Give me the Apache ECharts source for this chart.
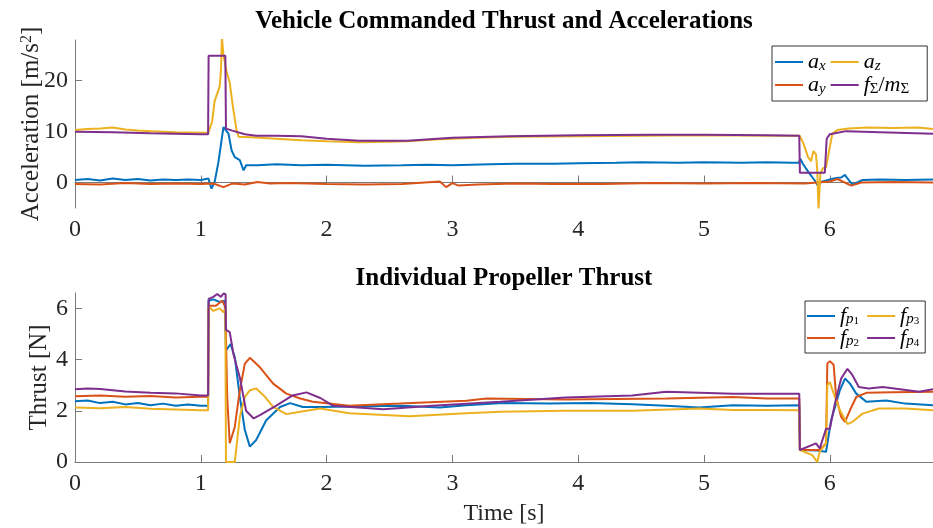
<!DOCTYPE html>
<html><head><meta charset="utf-8">
<script src="https://cdn.jsdelivr.net/npm/echarts@6/dist/echarts.min.js"></script>
<style>html,body{margin:0;padding:0;background:#fff}#c{width:933px;height:528px}</style>
</head><body><div id="c"></div>
<script>
// ---- tick labels ----
const xTicks = [0, 1, 2, 3, 4, 5, 6];
const accTicks = [0, 10, 20];
const thrustTicks = [0, 2, 4, 6];

// ---- top panel: accelerations [m/s^2], pairs [time s, value] ----
const ax = [[0,0.5],[0.1,0.7],[0.2,0.4],[0.3,0.8],[0.4,0.5],[0.5,0.7],[0.6,0.4],[0.7,0.6],[0.8,0.5],[0.9,0.6],[1.0,0.5],[1.06,0.8],[1.085,-1.2],[1.11,0.1],[1.14,4],[1.18,10.9],[1.22,9.6],[1.245,6.3],[1.27,5.0],[1.31,4.4],[1.34,2.4],[1.36,3.4],[1.45,3.4],[1.6,3.6],[1.8,3.4],[2.0,3.5],[2.3,3.3],[2.6,3.4],[2.8,3.5],[3.0,3.4],[3.3,3.6],[3.5,3.7],[3.8,3.7],[4.0,3.8],[4.3,3.9],[4.5,4.0],[4.8,3.9],[5.0,4.0],[5.3,3.9],[5.5,4.0],[5.7,3.9],[5.755,3.9],[5.765,4.7],[5.785,3.7],[5.84,1.7],[5.88,0.4],[5.905,-0.6],[5.93,0.1],[6.0,0.6],[6.05,0.9],[6.09,1.0],[6.12,1.5],[6.14,0.8],[6.18,-0.4],[6.26,0.5],[6.4,0.6],[6.6,0.5],[6.82,0.6]];
const ay = [[0,-0.3],[0.2,-0.4],[0.4,-0.1],[0.6,-0.3],[0.8,-0.2],[1.0,-0.3],[1.1,-0.2],[1.18,-0.9],[1.25,-0.2],[1.35,-0.4],[1.45,0.1],[1.55,-0.2],[1.7,-0.1],[2.0,-0.3],[2.3,-0.4],[2.6,-0.3],[2.9,0.2],[2.95,-0.9],[3.0,-0.1],[3.05,-0.6],[3.2,-0.4],[3.5,-0.2],[3.8,-0.3],[4.2,-0.3],[4.6,-0.1],[5.0,-0.2],[5.4,-0.1],[5.8,-0.2],[5.9,0.0],[6.0,0.2],[6.06,0.7],[6.17,-0.6],[6.25,0.0],[6.5,0.1],[6.82,0.0]];
const az = [[0,10.3],[0.1,10.5],[0.2,10.6],[0.3,10.8],[0.4,10.4],[0.5,10.2],[0.6,10.1],[0.8,9.9],[1.0,9.8],[1.06,9.8],[1.09,12],[1.11,16],[1.15,18.9],[1.16,22],[1.168,28.5],[1.18,25],[1.205,21.8],[1.23,19.6],[1.255,14.9],[1.284,10.3],[1.30,9.0],[1.4,8.9],[1.6,8.6],[1.8,8.3],[2.0,8.1],[2.26,7.9],[2.5,8.0],[2.64,8.1],[2.9,8.5],[3.2,8.8],[3.5,9.0],[4.0,9.1],[4.5,9.2],[5.0,9.3],[5.5,9.2],[5.76,9.2],[5.79,7.7],[5.825,5.1],[5.85,4.2],[5.87,6.2],[5.89,5.5],[5.90,2.4],[5.91,-5.1],[5.925,1.8],[5.945,2.8],[5.97,3.0],[6.0,7.0],[6.02,9.6],[6.06,10.3],[6.15,10.6],[6.3,10.8],[6.5,10.7],[6.7,10.8],[6.82,10.5]];
const fm = [[0,10.0],[0.3,9.9],[0.6,9.7],[1.0,9.5],[1.058,9.5],[1.062,24.9],[1.195,24.9],[1.2,10.6],[1.25,10.2],[1.35,9.5],[1.44,9.2],[1.6,9.2],[1.8,9.1],[2.0,8.6],[2.26,8.2],[2.64,8.2],[3.0,8.8],[3.45,9.1],[4.0,9.3],[4.57,9.4],[5.0,9.4],[5.5,9.3],[5.757,9.2],[5.762,1.9],[5.96,1.9],[5.975,8.6],[6.0,9.5],[6.13,10.1],[6.4,9.9],[6.82,9.6]];

// ---- bottom panel: propeller thrust [N] ----
const fp1 = [[0,2.37],[0.1,2.4],[0.2,2.3],[0.3,2.35],[0.4,2.25],[0.5,2.3],[0.6,2.22],[0.7,2.28],[0.8,2.2],[0.9,2.25],[1.0,2.2],[1.058,2.2],[1.062,6.3],[1.1,6.35],[1.15,6.25],[1.19,6.3],[1.2,4.36],[1.237,4.6],[1.27,4.1],[1.31,2.54],[1.35,1.25],[1.39,0.6],[1.44,0.86],[1.52,1.63],[1.63,2.15],[1.71,2.3],[1.81,2.15],[1.95,2.15],[2.32,2.18],[2.6,2.2],[2.9,2.13],[3.11,2.22],[3.4,2.3],[3.77,2.28],[4.1,2.3],[4.43,2.26],[4.7,2.2],[4.96,2.13],[5.23,2.22],[5.5,2.2],[5.757,2.22],[5.762,0.47],[5.9,0.45],[5.97,0.4],[6.01,1.63],[6.08,2.8],[6.12,3.26],[6.16,3.06],[6.21,2.67],[6.29,2.35],[6.45,2.4],[6.6,2.28],[6.82,2.22]];
const fp2 = [[0,2.57],[0.2,2.6],[0.4,2.55],[0.6,2.58],[0.8,2.52],[1.0,2.55],[1.058,2.55],[1.062,6.1],[1.12,6.1],[1.17,6.3],[1.195,6.05],[1.21,2.5],[1.23,0.73],[1.27,1.37],[1.31,2.8],[1.35,3.84],[1.39,4.07],[1.47,3.7],[1.575,3.06],[1.68,2.67],[1.79,2.48],[1.89,2.35],[2.18,2.2],[2.58,2.28],[3.11,2.39],[3.27,2.48],[3.9,2.44],[4.7,2.48],[5.23,2.54],[5.5,2.48],[5.757,2.48],[5.762,0.47],[5.92,0.47],[5.97,0.73],[5.98,3.84],[6.0,3.94],[6.03,3.8],[6.05,2.54],[6.09,1.76],[6.12,1.57],[6.16,2.02],[6.21,2.54],[6.29,2.7],[6.5,2.72],[6.82,2.74]];
const fp3 = [[0,2.13],[0.2,2.1],[0.4,2.15],[0.6,2.08],[0.8,2.05],[1.0,2.02],[1.058,2.02],[1.062,6.07],[1.1,5.9],[1.15,6.0],[1.18,5.85],[1.195,6.0],[1.2,0],[1.27,0],[1.31,1.76],[1.35,2.54],[1.39,2.8],[1.44,2.87],[1.5,2.6],[1.575,2.15],[1.68,1.87],[1.79,1.96],[1.95,2.09],[2.18,1.9],[2.66,1.79],[3.11,1.9],[3.38,1.96],[3.9,2.0],[4.43,2.0],[4.96,2.09],[5.23,2.03],[5.5,2.03],[5.757,2.02],[5.762,0.47],[5.86,0.27],[5.9,0.0],[5.92,0.4],[5.97,0.73],[5.98,3.0],[6.0,3.12],[6.04,2.54],[6.08,2.02],[6.14,1.48],[6.18,1.57],[6.26,1.89],[6.39,2.09],[6.6,2.09],[6.82,2.02]];
const fp4 = [[0,2.84],[0.1,2.87],[0.2,2.85],[0.4,2.75],[0.6,2.7],[0.8,2.68],[1.0,2.6],[1.058,2.6],[1.062,6.37],[1.1,6.45],[1.13,6.56],[1.16,6.45],[1.18,6.58],[1.197,6.55],[1.2,5.16],[1.23,5.07],[1.26,4.2],[1.31,3.3],[1.36,2.0],[1.42,1.7],[1.47,1.83],[1.6,2.2],[1.73,2.6],[1.84,2.72],[1.95,2.5],[2.05,2.2],[2.45,2.06],[2.84,2.2],[3.38,2.35],[3.9,2.52],[4.43,2.6],[4.7,2.74],[5.23,2.67],[5.5,2.67],[5.757,2.67],[5.762,0.47],[5.89,0.73],[5.92,0.53],[5.97,1.3],[6.0,1.3],[6.04,2.28],[6.09,3.26],[6.14,3.64],[6.18,3.39],[6.23,2.93],[6.31,2.87],[6.42,2.93],[6.71,2.74],[6.82,2.84]];

const C = {blue:'#0072BD', orange:'#D95319', yellow:'#EDB120', purple:'#7E2F8E'};
const SERIF = 'Liberation Serif';
const TXT = '#262626', AXC = '#7a7a7a';

const legendTex = {
  ax: '{i|a}{s|x}{w|}', ay: '{i|a}{s|y}{w|}', az: '{i|a}{s|z}',
  fm: '{i|f}{u|Σ}{n|/}{i|m}{u|Σ}{w3|}',
  fp1: '{i|f}{s|p}{ss|1}{w2|}', fp2: '{i|f}{s|p}{ss|2}{w2|}', fp3: '{i|f}{s|p}{ss|3}', fp4: '{i|f}{s|p}{ss|4}'
};
function legendRich(lh) {
  return {
    i: {fontFamily: SERIF, fontStyle: 'italic', fontSize: 22, color: '#000', lineHeight: lh},
    n: {fontFamily: SERIF, fontSize: 22, color: '#000', lineHeight: lh},
    s: {fontFamily: SERIF, fontStyle: 'italic', fontSize: 15, color: '#000', lineHeight: 9, verticalAlign: 'bottom'},
    u: {fontFamily: SERIF, fontSize: 15, color: '#000', lineHeight: 8, verticalAlign: 'bottom'},
    ss: {fontFamily: SERIF, fontSize: 11, color: '#000', lineHeight: 1, verticalAlign: 'bottom'},
    w: {width: 5, lineHeight: lh},
    w2: {width: 8, lineHeight: lh},
    w3: {width: 12, lineHeight: lh}
  };
}

function xAxis(gridIndex, name) {
  return {
    type: 'value', gridIndex, min: 0, max: 6.82,
    axisLine: {lineStyle: {color: AXC, width: 1}},
    axisTick: {inside: true, length: 7, customValues: xTicks, lineStyle: {color: AXC}},
    axisLabel: {customValues: xTicks, fontFamily: SERIF, fontSize: 24, color: TXT, margin: 10},
    splitLine: {show: false},
    name: name || '', nameLocation: 'middle', nameGap: 40, nameMoveOverlap: false,
    nameTextStyle: {fontFamily: SERIF, fontSize: 24, color: TXT}
  };
}
function yAxis(gridIndex, min, max, ticks, name, gap, rich) {
  return {
    type: 'value', gridIndex, min, max,
    axisLine: {show: true, lineStyle: {color: AXC, width: 1}},
    axisTick: {show: true, inside: true, length: 7, customValues: ticks, lineStyle: {color: AXC}},
    axisLabel: {customValues: ticks, fontFamily: SERIF, fontSize: 24, color: TXT, margin: 7},
    splitLine: {show: false},
    name, nameLocation: 'middle', nameGap: gap, nameMoveOverlap: false,
    nameTextStyle: {fontFamily: SERIF, fontSize: 25, color: TXT, rich: rich || {}}
  };
}
function line(name, data, color, xi) {
  return {name, type: 'line', data, xAxisIndex: xi, yAxisIndex: xi, showSymbol: false, symbol: 'none',
    lineStyle: {color, width: 2}, itemStyle: {color}, animation: false, clip: true};
}

const chart = echarts.init(document.getElementById('c'), null, {renderer: 'canvas'});
chart.setOption({
  backgroundColor: '#fff',
  animation: false,
  title: [
    {text: 'Vehicle Commanded Thrust and Accelerations', left: 504, top: 9, textAlign: 'center', padding: 0,
      textStyle: {fontFamily: SERIF, fontWeight: 'bold', fontSize: 25, color: '#000', lineHeight: 26}},
    {text: 'Individual Propeller Thrust', left: 504, top: 266, textAlign: 'center', padding: 0,
      textStyle: {fontFamily: SERIF, fontWeight: 'bold', fontSize: 25, color: '#000', lineHeight: 26}}
  ],
  grid: [
    {left: 75, right: 0, top: 40, height: 168},
    {left: 75, right: 0, top: 293, height: 169}
  ],
  xAxis: [xAxis(0), xAxis(1, 'Time [s]')],
  yAxis: [
    yAxis(0, -5, 28, accTicks, '{a|Acceleration [m/s}{p|2}{a|]}', 31,
      {a: {fontFamily: SERIF, fontSize: 25, color: TXT}, p: {fontFamily: SERIF, fontSize: 16, color: TXT, verticalAlign: 'top', lineHeight: 12}}),
    yAxis(1, 0, 6.6, thrustTicks, 'Thrust [N]', 23)
  ],
  legend: [
    {data: ['ax', 'az', 'ay', 'fm'], left: 772, top: 46, width: 156, itemWidth: 28, itemHeight: 2, itemGap: 0, icon: 'rect',
      padding: [5, 6, 4, 3], borderColor: '#333', borderWidth: 1, backgroundColor: '#fff',
      formatter: n => legendTex[n], textStyle: {rich: legendRich(24)}},
    {data: ['fp1', 'fp3', 'fp2', 'fp4'], left: 805, top: 301, width: 120, itemWidth: 28, itemHeight: 2, itemGap: 0, icon: 'rect',
      padding: [4, 6, 4, 2], borderColor: '#333', borderWidth: 1, backgroundColor: '#fff',
      formatter: n => legendTex[n], textStyle: {rich: legendRich(22)}}
  ],
  series: [
    line('ax', ax, C.blue, 0), line('ay', ay, C.orange, 0), line('az', az, C.yellow, 0), line('fm', fm, C.purple, 0),
    line('fp1', fp1, C.blue, 1), line('fp2', fp2, C.orange, 1), line('fp3', fp3, C.yellow, 1), line('fp4', fp4, C.purple, 1)
  ]
});
</script></body></html>
